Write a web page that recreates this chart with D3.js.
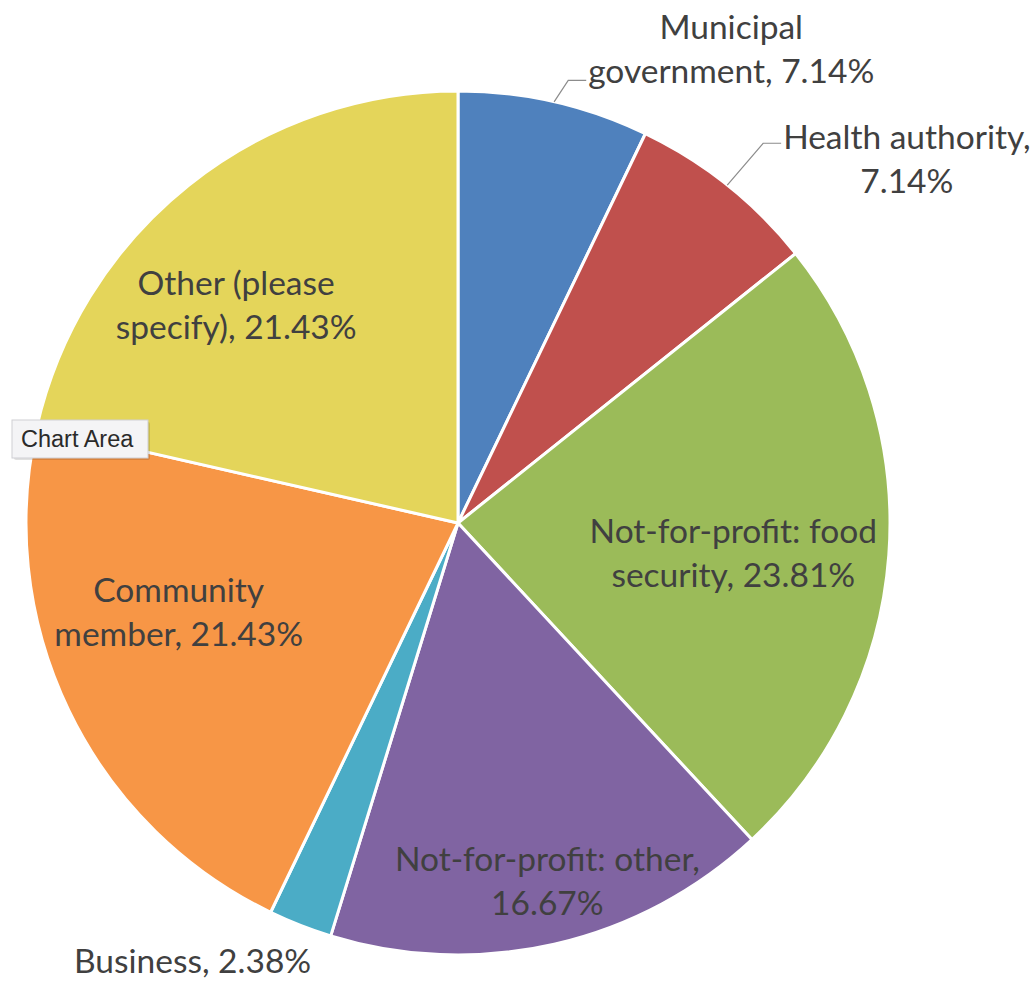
<!DOCTYPE html>
<html><head><meta charset="utf-8">
<script src="https://cdn.jsdelivr.net/npm/d3@7"></script>
<style>
html,body{margin:0;padding:0;background:#fff;}
svg{display:block;}
</style></head>
<body>
<svg id="chart" width="1035" height="983"></svg>
<script>
// ---- data ----
const categories = ["Municipal government","Health authority","Not-for-profit: food security","Not-for-profit: other","Business","Community member","Other (please specify)"];
const values = [7.14, 7.14, 23.81, 16.67, 2.38, 21.43, 21.43];
const labelLines = [
  ["Municipal","government, 7.14%"],
  ["Health authority,","7.14%"],
  ["Not-for-profit: food","security, 23.81%"],
  ["Not-for-profit: other,","16.67%"],
  ["Business, 2.38%"],
  ["Community","member, 21.43%"],
  ["Other (please","specify), 21.43%"]
];
const colors = ["#4F81BD","#C0504D","#9BBB59","#8064A2","#4BACC6","#F79646","#E4D55A"];

// ---- layout (label placement in polar terms: degrees clockwise from top, fraction of radius) ----
const labelPolar = [[30.0,1.265],[51.0,1.337],[96.2,0.641],[166.0,0.855],[211.2,1.186],[252.2,0.679],[314.5,0.72]];
const leader = [true,true,false,false,false,false,false];

const W=1035,H=983, cx=458, cy=523, R=432;
const svg=d3.select("#chart");
const g=svg.append("g").attr("transform",`translate(${cx},${cy})`);
const data=categories.map((c,i)=>({c,v:values[i],i}));
const pie=d3.pie().value(d=>d.v).sort(null);
const arcs=pie(data);
const arc=d3.arc().innerRadius(0).outerRadius(R);
g.selectAll("path.slice").data(arcs).enter().append("path")
  .attr("class","slice").attr("d",arc)
  .attr("fill",d=>colors[d.data.i]).attr("stroke","#fff").attr("stroke-width",3).attr("stroke-linejoin","round");

const fs=33.5, lh=44;
const polar=(deg,r)=>[r*Math.sin(deg*Math.PI/180), -r*Math.cos(deg*Math.PI/180)];
arcs.forEach((a,i)=>{
  const [lx,ly]=polar(labelPolar[i][0], labelPolar[i][1]*R);
  const lines=labelLines[i];
  const t=g.append("text").attr("text-anchor","middle")
    .attr("font-family","Lato, 'Open Sans', sans-serif").attr("font-size",fs).attr("fill","#404040");
  lines.forEach((ln,k)=>{
    t.append("tspan").attr("x",lx).attr("y",ly+(k-(lines.length-1)/2)*lh+fs*0.35).text(ln);
  });
  if(leader[i]){
    const mid=(a.startAngle+a.endAngle)/2;
    const sx=R*Math.sin(mid), sy=-R*Math.cos(mid);
    const tn=t.selectAll("tspan").nodes();
    const li = i===0?1:0;
    const bb=tn[li].getBBox();
    const ex=bb.x-2, ey=bb.y+bb.height*0.5+(i===0?10:7);
    g.append("polyline").attr("points",`${sx},${sy} ${ex-18},${ey} ${ex},${ey}`)
      .attr("fill","none").attr("stroke","#8c8c8c").attr("stroke-width",1.2);
  }
});

// "Chart Area" tooltip
const tip=svg.append("g");
tip.append("rect").attr("x",14).attr("y",422).attr("width",136).attr("height",38)
  .attr("fill","#000").attr("opacity",0.12).attr("rx",2);
tip.append("rect").attr("x",12).attr("y",420).attr("width",136).attr("height",38)
  .attr("fill","#f4f4f6").attr("stroke","#cfcfd4").attr("stroke-width",1);
tip.append("text").attr("x",21).attr("y",447).attr("font-family","'Liberation Sans', Arial, sans-serif")
  .attr("font-size",23.5).attr("fill","#2a2a2a").text("Chart Area");
</script>
</body></html>
